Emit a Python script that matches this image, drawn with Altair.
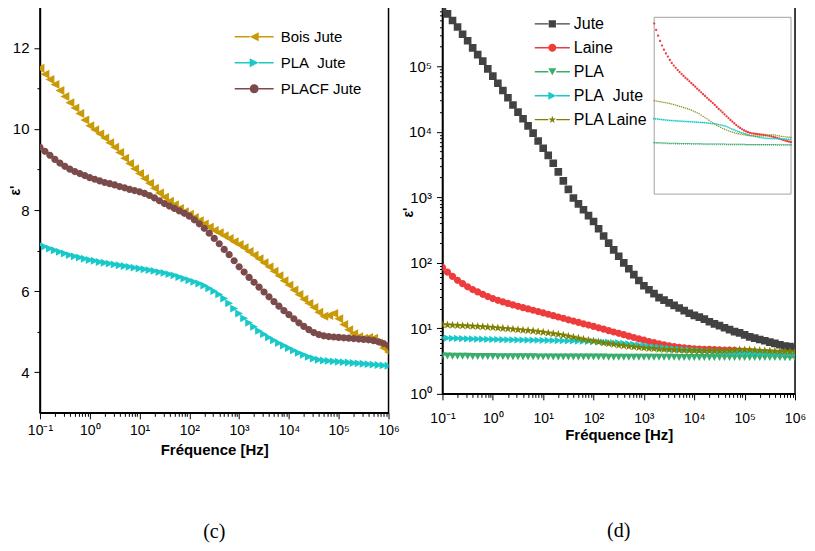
import json
import altair as alt
import pandas as pd

# ---------------- data ----------------
# frequency sweep: 10 points per decade, 0.1 Hz .. 1 MHz
LOG_F = [k / 10 for k in range(-10, 61)]
FREQ = [float(f"{10 ** e:.6g}") for e in LOG_F]

# panel (c): linear permittivity
BOIS_JUTE = [11.50, 11.35, 11.22, 11.10, 10.95, 10.80, 10.65, 10.52, 10.38, 10.22,
             10.08, 9.98, 9.88, 9.78, 9.66, 9.55, 9.42, 9.28, 9.15, 9.02,
             8.90, 8.78, 8.66, 8.54, 8.42, 8.32, 8.22, 8.13, 8.04, 7.96,
             7.90, 7.82, 7.74, 7.66, 7.58, 7.50, 7.44, 7.37, 7.30, 7.22,
             7.15, 7.07, 6.98, 6.89, 6.80, 6.70, 6.60, 6.49, 6.38, 6.26,
             6.15, 6.03, 5.92, 5.80, 5.70, 5.60, 5.48, 5.38, 5.40, 5.45,
             5.32, 5.18, 5.05, 4.95, 4.88, 4.84, 4.86, 4.84, 4.72, 4.60,
             4.50]
PLACF_JUTE = [9.55, 9.45, 9.35, 9.25, 9.16, 9.08, 9.01, 8.95, 8.90, 8.85,
              8.80, 8.76, 8.72, 8.68, 8.65, 8.62, 8.58, 8.55, 8.51, 8.48,
              8.45, 8.41, 8.36, 8.30, 8.23, 8.16, 8.10, 8.04, 7.98, 7.92,
              7.85, 7.76, 7.66, 7.55, 7.43, 7.30, 7.17, 7.03, 6.90, 6.75,
              6.60, 6.47, 6.34, 6.22, 6.10, 5.98, 5.86, 5.74, 5.63, 5.52,
              5.42, 5.32, 5.22, 5.13, 5.05, 4.98, 4.93, 4.90, 4.88, 4.87,
              4.86, 4.85, 4.84, 4.83, 4.82, 4.81, 4.80, 4.78, 4.75, 4.71,
              4.66]
PLA_JUTE = [7.15, 7.10, 7.05, 7.01, 6.97, 6.93, 6.89, 6.86, 6.83, 6.80,
            6.77, 6.75, 6.72, 6.70, 6.68, 6.66, 6.64, 6.62, 6.60, 6.58,
            6.56, 6.54, 6.52, 6.50, 6.47, 6.45, 6.42, 6.39, 6.35, 6.31,
            6.27, 6.23, 6.19, 6.14, 6.07, 6.00, 5.92, 5.82, 5.70, 5.57,
            5.45, 5.33, 5.22, 5.12, 5.02, 4.94, 4.86, 4.79, 4.72, 4.66,
            4.60, 4.54, 4.48, 4.43, 4.38, 4.34, 4.31, 4.29, 4.28, 4.27,
            4.26, 4.25, 4.24, 4.23, 4.22, 4.21, 4.20, 4.19, 4.18, 4.17,
            4.16]

# panel (d): log permittivity
JUTE = [741000, 631000, 501000, 398000, 309000, 245000, 191000, 151000, 120000, 91200,
        70800, 55000, 42700, 33100, 25700, 20000, 15800, 12300, 9550, 7240,
        5620, 4370, 3310, 2450, 1780, 1320, 977, 794, 646, 525,
        427, 331, 257, 200, 158, 126, 100, 81.3, 66.1, 53.7,
        44.7, 38.9, 33.9, 29.5, 26.9, 24.5, 22.4, 20.4, 18.6, 17.0,
        15.8, 14.8, 13.8, 12.6, 11.7, 11.0, 10.2, 9.55, 8.91, 8.51,
        7.94, 7.41, 7.08, 6.76, 6.46, 6.17, 5.89, 5.62, 5.37, 5.25,
        5.01]
LAINE = [85, 72, 62, 54, 48, 43, 39, 36, 33, 30.5,
         28.5, 26.8, 25.3, 24.0, 22.8, 21.7, 20.7, 19.8, 18.9, 18.0,
         17.2, 16.4, 15.6, 14.9, 14.2, 13.5, 12.9, 12.3, 11.7, 11.2,
         10.7, 10.2, 9.7, 9.2, 8.8, 8.4, 8.0, 7.6, 7.25, 6.9,
         6.6, 6.3, 6.05, 5.8, 5.6, 5.4, 5.25, 5.12, 5.02, 4.94,
         4.88, 4.83, 4.79, 4.76, 4.73, 4.70, 4.67, 4.64, 4.60, 4.55,
         4.50, 4.44, 4.38, 4.31, 4.24, 4.17, 4.10, 4.03, 3.97, 3.92,
         3.88]
PLA = [3.78, 3.77, 3.76, 3.75, 3.74, 3.74, 3.73, 3.72, 3.72, 3.71,
       3.71, 3.70, 3.70, 3.69, 3.69, 3.69, 3.68, 3.68, 3.68, 3.67,
       3.67, 3.67, 3.66, 3.66, 3.66, 3.65, 3.65, 3.65, 3.65, 3.64,
       3.64, 3.64, 3.64, 3.63, 3.63, 3.63, 3.63, 3.62, 3.62, 3.62,
       3.62, 3.62, 3.61, 3.61, 3.61, 3.61, 3.61, 3.60, 3.60, 3.60,
       3.60, 3.60, 3.60, 3.60, 3.60, 3.60, 3.59, 3.59, 3.59, 3.59,
       3.59, 3.59, 3.59, 3.58, 3.58, 3.58, 3.58, 3.58, 3.57, 3.57,
       3.57]
PLA_LAINE = [11.4, 11.3, 11.2, 11.1, 11.0, 10.9, 10.8, 10.7, 10.6, 10.45,
             10.3, 10.15, 10.0, 9.85, 9.7, 9.55, 9.4, 9.25, 9.1, 8.9,
             8.7, 8.5, 8.3, 8.1, 7.85, 7.6, 7.35, 7.1, 6.85, 6.6,
             6.4, 6.2, 6.0, 5.85, 5.7, 5.55, 5.42, 5.3, 5.2, 5.1,
             5.02, 4.95, 4.88, 4.82, 4.77, 4.72, 4.68, 4.64, 4.61, 4.58,
             4.56, 4.54, 4.53, 4.52, 4.52, 4.53, 4.55, 4.58, 4.62, 4.66,
             4.68, 4.68, 4.65, 4.60, 4.55, 4.50, 4.47, 4.44, 4.42, 4.40,
             4.38]

SERIES_C = ["Bois Jute", "PLA  Jute", "PLACF Jute"]
VALUES_C = [BOIS_JUTE, PLA_JUTE, PLACF_JUTE]
SERIES_D = ["Jute", "Laine", "PLA", "PLA  Jute", "PLA Laine"]
VALUES_D = [JUTE, LAINE, PLA, PLA_JUTE, PLA_LAINE]
SERIES_INSET = ["Laine", "PLA", "PLA  Jute", "PLA Laine"]

X_TICK_LABELS = ["10⁻¹", "10⁰", "10¹", "10²", "10³", "10⁴", "10⁵", "10⁶"]
Y_TICK_LABELS_D = ["10⁰", "10¹", "10²", "10³", "10⁴", "10⁵"]
Y_TICK_LABELS_IN = ["10⁰", "10¹", "10²"]
Y_TICKS_C = [4, 5, 6, 7, 8, 9, 10, 11, 12]
CAPTIONS = ["(c)", "(d)"]

# ---------------- styles ----------------
SANS = "Liberation Sans"
SERIF = "Liberation Serif"

TRI_LEFT = "M-1,0L1,-1L1,1Z"
TRI_RIGHT = "M1,0L-1,-1L-1,1Z"
TRI_DOWN = "M-1,-0.9L1,-0.9L0,0.9Z"
CIRCLE = "M1,0A1,1,0,1,1,-1,0A1,1,0,1,1,1,0Z"
SQUARE = "M-0.9,-0.9H0.9V0.9H-0.9Z"
STAR = ("M0,-1L0.235,-0.324L0.951,-0.309L0.38,0.124L0.588,0.809L0,0.4"
        "L-0.588,0.809L-0.38,0.124L-0.951,-0.309L-0.235,-0.324Z")

COLORS_C = ["#C99A06", "#19C9C9", "#7B4B4B"]
SHAPES_C = [TRI_LEFT, TRI_RIGHT, CIRCLE]
SIZES_C = [80, 62, 52]

COLORS_D = ["#424242", "#EE3B3B", "#3BAD6C", "#19C9C9", "#808000"]
SHAPES_D = [SQUARE, CIRCLE, TRI_DOWN, TRI_RIGHT, STAR]
SIZES_D = [72, 52, 60, 52, 80]

X_TICKS = [10.0 ** d for d in range(-1, 7)] + [k * 10.0 ** d for d in range(-1, 6) for k in range(2, 10)]
Y_TICKS_D = [10.0 ** d for d in range(0, 6)] + [k * 10.0 ** d for d in range(0, 6) for k in range(2, 10) if k * 10.0 ** d < 7.9e5]
Y_TICKS_IN = [10.0 ** d for d in range(0, 3)] + [k * 10.0 ** d for d in range(0, 2) for k in range(2, 10)]

MAJOR_LOG = "abs(log(datum.value) / LN10 - round(log(datum.value) / LN10)) < 0.01"
MAJOR_LIN = "datum.value % 2 == 0"


def log_labels(labels, first_exp):
    arr = json.dumps(labels, ensure_ascii=False)
    return f"({MAJOR_LOG}) ? {arr}[round(log(datum.value) / LN10) - ({first_exp})] : ''"


def by_major(test, major, minor):
    return {"condition": {"test": test, "value": major}, "value": minor}


def long_df(series, values, shapes, sizes):
    rows = []
    for s, vals, shp, sz in zip(series, values, shapes, sizes):
        for f, v in zip(FREQ, vals):
            rows.append({"f": f, "eps": v, "serie": s, "shp": shp, "sz": sz})
    return pd.DataFrame(rows)


def switch_expr(series, outputs):
    expr = json.dumps(outputs[-1])
    for s, o in reversed(list(zip(series[:-1], outputs[:-1]))):
        expr = f"datum.value === {json.dumps(s)} ? {json.dumps(o)} : ({expr})"
    return expr


def legend(series, shapes, half_line, thick, size, x, y, font_size, row_pad, label_offset):
    seg = (f"M{-half_line},{-thick}H-1V{thick}H{-half_line}Z"
           f"M1,{-thick}H{half_line}V{thick}H1Z")
    paths = [seg + p for p in shapes]
    return alt.Legend(
        orient="none", legendX=x, legendY=y, title=None, padding=0,
        labelFont=SANS, labelFontSize=font_size, labelColor="black",
        labelOffset=label_offset, rowPadding=row_pad, symbolSize=size,
        labelExpr="replace(datum.label, '  ', '\u00a0\u00a0')",
        symbolType=alt.ExprRef(expr=switch_expr(series, paths)),
        symbolStrokeWidth=0, symbolOpacity=1,
    )


def x_axis_main(label_size, label_pad, title_pad):
    return alt.Axis(
        values=X_TICKS, labelExpr=log_labels(X_TICK_LABELS, -1),
        tickSize=by_major(MAJOR_LOG, 6, 3.5), tickColor="black", tickWidth=1,
        domainColor="black", domainWidth=1.5, grid=False,
        labelFont=SANS, labelFontSize=by_major(MAJOR_LOG, label_size, 0), labelColor="black",
        labelPadding=label_pad, labelFlush=False, labelOverlap=False,
        titleFont=SANS, titleFontSize=15, titleFontWeight="bold", titleColor="black", titlePadding=title_pad,
    )


def y_title_props(tx, ty):
    return dict(titleFont=SANS, titleFontSize=14, titleFontWeight="bold", titleColor="black",
                titleX=tx, titleY=ty)


# ---------------- panel (c) ----------------
df_c = long_df(SERIES_C, VALUES_C, SHAPES_C, SIZES_C)
y_axis_c = alt.Axis(
    values=Y_TICKS_C, labelExpr=f"{MAJOR_LIN} ? datum.label : ''",
    tickSize=by_major(MAJOR_LIN, 6, 3), tickColor="black", tickWidth=1,
    domainColor="black", domainWidth=1.5, grid=False,
    labelFont=SANS, labelFontSize=by_major(MAJOR_LIN, 15, 0), labelColor="black",
    labelPadding=5, labelOverlap=False,
    **y_title_props(-17, 183),
)
panel_c = alt.Chart(df_c).mark_point(filled=True, opacity=1, clip=True).encode(
    x=alt.X("f:Q", scale=alt.Scale(type="log", domain=[0.1, 1e6]), axis=x_axis_main(14, 4.5, 5), title="Fréquence [Hz]"),
    y=alt.Y("eps:Q", scale=alt.Scale(domain=[3, 13], nice=False, zero=False), axis=y_axis_c, title="ε'"),
    color=alt.Color("serie:N", scale=alt.Scale(domain=SERIES_C, range=COLORS_C),
                    legend=legend(SERIES_C, SHAPES_C, 4.33, 0.15, 81, 207, 22, 15, 10, 19)),
    shape=alt.Shape("shp:N", scale=None),
    size=alt.Size("sz:Q", scale=None),
).properties(
    width=349, height=406,
    title=alt.TitleParams(CAPTIONS[0], orient="bottom", anchor="middle", frame="group", offset=64.5,
                          font=SERIF, fontSize=20, fontWeight="normal", color="black"),
)

# ---------------- panel (d) ----------------
df_d = long_df(SERIES_D, VALUES_D, SHAPES_D, SIZES_D)
df_in = df_d[df_d["serie"].isin(SERIES_INSET)]

y_axis_d = alt.Axis(
    values=Y_TICKS_D, labelExpr=log_labels(Y_TICK_LABELS_D, 0),
    tickSize=by_major(MAJOR_LOG, 6, 3), tickColor="black", tickWidth=1,
    domainColor="black", domainWidth=1.5, grid=False,
    labelFont=SANS, labelFontSize=by_major(MAJOR_LOG, 15, 0), labelColor="black",
    labelPadding=5, labelOverlap=False,
    **y_title_props(-27, 205),
)
main_d = alt.Chart(df_d).mark_point(filled=True, opacity=1, clip=True).encode(
    x=alt.X("f:Q", scale=alt.Scale(type="log", domain=[0.1, 1e6]), axis=x_axis_main(14, 12, 2), title="Fréquence [Hz]"),
    y=alt.Y("eps:Q", scale=alt.Scale(type="log", domain=[1, 10 ** 5.9], nice=False), axis=y_axis_d, title="ε'"),
    color=alt.Color("serie:N", scale=alt.Scale(domain=SERIES_D, range=COLORS_D),
                    legend=legend(SERIES_D, SHAPES_D, 4.4, 0.17, 64, 102, 8.5, 16, 8, 13.5)),
    shape=alt.Shape("shp:N", scale=None),
    size=alt.Size("sz:Q", scale=None),
)

inset_x_axis = alt.Axis(
    orient="bottom", offset=-200, values=X_TICKS, labelExpr=log_labels(X_TICK_LABELS, -1),
    tickSize=by_major(MAJOR_LOG, 2, 1), tickColor="#555555", tickWidth=0.5, domain=False, grid=False,
    labelFont=SANS, labelFontSize=4, labelColor="#333333", labelPadding=0.5,
    labelFlush=False, labelOverlap=False, title=None,
)
inset_y_axis = alt.Axis(
    orient="left", offset=-212, values=Y_TICKS_IN, labelExpr=log_labels(Y_TICK_LABELS_IN, 0),
    tickSize=by_major(MAJOR_LOG, 2, 1), tickColor="#555555", tickWidth=0.5, domain=False, grid=False,
    labelFont=SANS, labelFontSize=4, labelColor="#333333", labelPadding=0.5, labelOverlap=False, title=None,
)
inset_scale_x = alt.Scale(type="log", domain=[0.1, 1e6], range=[212, 349])
inset_scale_y = alt.Scale(type="log", domain=[1, 100], range=[187, 10], nice=False)

inset_frame = alt.Chart(pd.DataFrame({"k": [0]})).mark_rect(
    fill="white", stroke="#8c8c8c", strokeWidth=0.8
).encode(
    x=alt.XDatum(0.1, type="quantitative", axis=None),
    x2=alt.X2Datum(1e6),
    y=alt.YDatum(1, type="quantitative", axis=None),
    y2=alt.Y2Datum(100),
)
inset_pts = alt.Chart(df_in).mark_point(filled=True, opacity=1, size=5).encode(
    x=alt.X("f:Q", scale=inset_scale_x, axis=inset_x_axis),
    y=alt.Y("eps:Q", scale=inset_scale_y, axis=inset_y_axis),
    color=alt.Color("serie:N", legend=None),
    shape=alt.Shape("shp:N", scale=None),
)
inset = alt.layer(inset_frame, inset_pts)

panel_d = alt.layer(main_d, inset).resolve_scale(x="independent", y="independent").properties(
    width=353, height=387,
    title=alt.TitleParams(CAPTIONS[1], orient="bottom", anchor="middle", frame="group", offset=78.5,
                          font=SERIF, fontSize=20, fontWeight="normal", color="black"),
)

chart = alt.hconcat(panel_c, panel_d, spacing=0).resolve_scale(
    color="independent"
).properties(
    padding={"left": 0, "top": -2, "right": 0, "bottom": 0}
).configure_view(stroke="black", strokeWidth=1.5)

chart.save("out.html", embed_options={"renderer": "svg", "actions": False})
